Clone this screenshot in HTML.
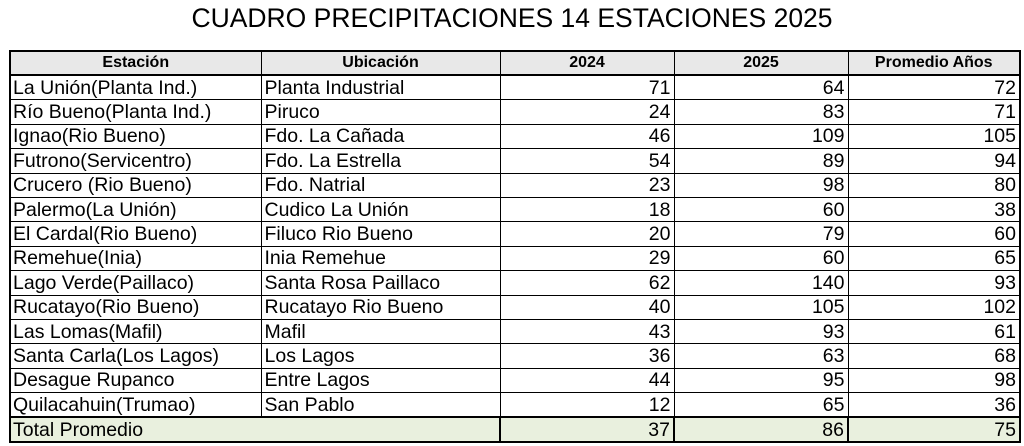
<!DOCTYPE html>
<html><head><meta charset="utf-8"><style>
body{margin:0;width:1024px;height:446px;background:#fff;font-family:"Liberation Sans",Arial,sans-serif;overflow:hidden;position:relative}
h1{position:absolute;top:3px;left:0;width:1024px;margin:0;text-align:center;font-weight:normal;font-size:26.5px;color:#000}
table{position:absolute;left:9px;top:50px;border-collapse:collapse;border:2px solid #000;table-layout:fixed}
td,th{border:1px solid #000;padding:0 3px 0 3px;height:23.4px;font-size:19.5px;line-height:20px;white-space:nowrap;overflow:hidden}
td:first-child{padding-left:2px}
th{background:#e8e8e8;font-size:16px;font-weight:bold;text-align:center;height:22px;border-bottom:2px solid #000}
td.n{text-align:right}
tr.total td{background:#e9f0de;border-top:2px solid #000;border-left:2px solid #000;height:23px}
</style></head><body>
<h1>CUADRO PRECIPITACIONES 14 ESTACIONES 2025</h1>
<table>
<colgroup><col style="width:251px"><col style="width:239px"><col style="width:174px"><col style="width:174px"><col style="width:172px"></colgroup>
<thead><tr><th>Estación</th><th>Ubicación</th><th>2024</th><th>2025</th><th>Promedio Años</th></tr></thead>
<tbody id="tb"></tbody>
</table>
<script>
const stations=["La Unión(Planta Ind.)","Río Bueno(Planta Ind.)","Ignao(Rio Bueno)","Futrono(Servicentro)","Crucero (Rio Bueno)","Palermo(La Unión)","El Cardal(Rio Bueno)","Remehue(Inia)","Lago Verde(Paillaco)","Rucatayo(Rio Bueno)","Las Lomas(Mafil)","Santa Carla(Los Lagos)","Desague Rupanco","Quilacahuin(Trumao)"];
const locations=["Planta Industrial","Piruco","Fdo. La Cañada","Fdo. La Estrella","Fdo. Natrial","Cudico La Unión","Filuco Rio Bueno","Inia Remehue","Santa Rosa Paillaco","Rucatayo Rio Bueno","Mafil","Los Lagos","Entre Lagos","San Pablo"];
const v2024=[71,24,46,54,23,18,20,29,62,40,43,36,44,12];
const v2025=[64,83,109,89,98,60,79,60,140,105,93,63,95,65];
const vAvg=[72,71,105,94,80,38,60,65,93,102,61,68,98,36];
const totals=[37,86,75];
const tb=document.getElementById('tb');
stations.forEach((s,i)=>{
  const tr=document.createElement('tr');
  
  
  [s,locations[i],v2024[i],v2025[i],vAvg[i]].forEach((v,j)=>{
    const td=document.createElement('td');
    td.textContent=v;
    if(j>1)td.className='n';
    tr.appendChild(td);
  });
  tb.appendChild(tr);
});
const tr=document.createElement('tr');
tr.className='total';


const l=document.createElement('td');l.colSpan=2;l.textContent='Total Promedio';tr.appendChild(l);
totals.forEach(v=>{const td=document.createElement('td');td.className='n';td.textContent=v;tr.appendChild(td);});
tb.appendChild(tr);
</script>
</body></html>
